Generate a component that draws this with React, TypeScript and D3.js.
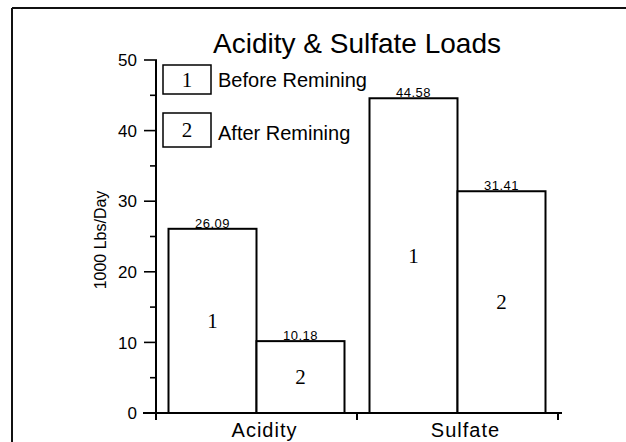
import React from "react";
import * as d3 from "d3";

const categories = ["Acidity", "Sulfate"];
const seriesKeys = ["1", "2"];
const seriesNames = ["Before Remining", "After Remining"];
const beforeValues = [26.09, 44.58];
const afterValues = [10.18, 31.41];
const valueLabels = [["26.09", "10.18"], ["44.58", "31.41"]];
const yTicks = [0, 10, 20, 30, 40, 50];
const yMinorTicks = [5, 15, 25, 35, 45];

const W = 626;
const H = 442;
const sans = "'Liberation Sans', Arial, Helvetica, sans-serif";
const serif = "'Liberation Serif', 'Times New Roman', serif";

export default function App() {
  const y = d3.scaleLinear().domain([0, 50]).range([413, 60]);
  const x0 = d3.scaleBand().domain(categories).range([156, 558]).paddingInner(0).paddingOuter(0);
  const pairW = 176;
  const x1 = d3.scaleBand().domain(seriesKeys).range([0, pairW]).padding(0);
  const offset = (x0.bandwidth() - pairW) / 2;
  const series = [beforeValues, afterValues];

  return (
    <svg width={W} height={H} style={{ position: "absolute", left: 0, top: 0, background: "#fff" }}>
      {/* frame */}
      <line x1={12} x2={W} y1={8} y2={8} stroke="#111" strokeWidth={2} />
      <line x1={12} x2={12} y1={8} y2={H} stroke="#111" strokeWidth={2} />

      {/* title */}
      <text x={357} y={53} textAnchor="middle" fontFamily={sans} fontSize={28} fill="#000">
        Acidity &amp; Sulfate Loads
      </text>

      {/* y axis */}
      <line x1={156} x2={156} y1={y(50)} y2={420} stroke="#000" strokeWidth={2} />
      {yTicks.map((t) => (
        <g key={t}>
          <line x1={144} x2={157} y1={y(t)} y2={y(t)} stroke="#000" strokeWidth={1.6} />
          <text x={137} y={y(t)} dy="0.36em" textAnchor="end" fontFamily={sans} fontSize={17} fill="#000">
            {t}
          </text>
        </g>
      ))}
      {yMinorTicks.map((t) => (
        <line key={t} x1={150} x2={157} y1={y(t)} y2={y(t)} stroke="#000" strokeWidth={1.6} />
      ))}
      <text
        transform={`translate(106,240) rotate(-90)`}
        textAnchor="middle"
        fontFamily={sans}
        fontSize={16}
        fill="#000"
      >
        1000 Lbs/Day
      </text>

      {/* bars */}
      {categories.map((c, ci) => (
        <g key={c} transform={`translate(${(x0(c) as number) + offset},0)`}>
          {seriesKeys.map((k, si) => {
            const v = series[si][ci];
            const bx = x1(k) as number;
            const bw = x1.bandwidth();
            return (
              <g key={k}>
                <rect x={bx} y={y(v)} width={bw} height={y(0) - y(v)} fill="#fff" stroke="#000" strokeWidth={2} />
                <text x={bx + bw / 2} y={y(v) - 1} textAnchor="middle" fontFamily={sans} fontSize={13} letterSpacing={0.5} fill="#000">
                  {valueLabels[ci][si]}
                </text>
                <text x={bx + bw / 2} y={y(v / 2)} dy="0.35em" textAnchor="middle" fontFamily={serif} fontSize={21} fill="#000">
                  {k}
                </text>
              </g>
            );
          })}
        </g>
      ))}

      {/* x axis */}
      <line x1={143} x2={562} y1={413} y2={413} stroke="#000" strokeWidth={2} />
      {[...categories.map((c) => x0(c) as number), 558].map((t, i) => (
        <line key={i} x1={t} x2={t} y1={413} y2={420} stroke="#000" strokeWidth={2} />
      ))}
      {categories.map((c) => (
        <text
          key={c}
          x={(x0(c) as number) + x0.bandwidth() / 2 + 8}
          y={437}
          textAnchor="middle"
          fontFamily={sans}
          fontSize={20}
          letterSpacing={1}
          fill="#000"
        >
          {c}
        </text>
      ))}

      {/* legend */}
      {seriesKeys.map((k, i) => {
        const top = i === 0 ? 65 : 113;
        const h = i === 0 ? 29 : 34;
        return (
          <g key={k}>
            <rect x={163} y={top} width={48} height={h} fill="#fff" stroke="#000" strokeWidth={1.5} />
            <text x={187} y={top + h / 2} dy="0.35em" textAnchor="middle" fontFamily={serif} fontSize={21} fill="#000">
              {k}
            </text>
            <text x={218} y={i === 0 ? 87 : 140} fontFamily={sans} fontSize={20} fill="#000">
              {seriesNames[i]}
            </text>
          </g>
        );
      })}
    </svg>
  );
}
